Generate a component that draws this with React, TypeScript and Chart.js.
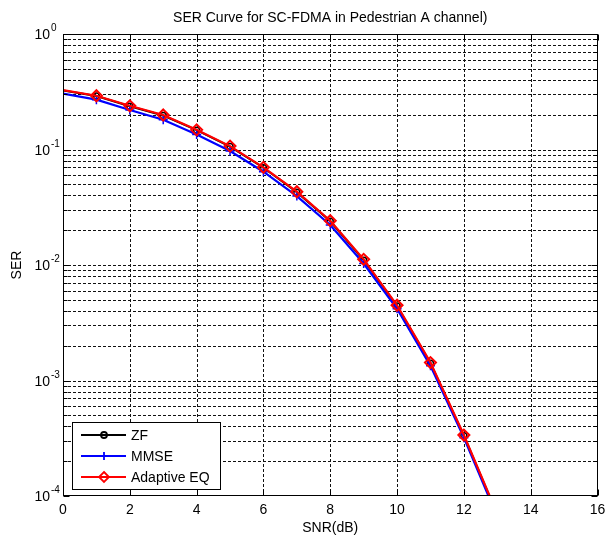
import React, { useEffect, useRef } from "react";
import { Chart, registerables } from "chart.js";

Chart.register(...registerables);

const snr = [0, 1, 2, 3, 4, 5, 6, 7, 8, 9, 10, 11, 12, 13];
const zf = [0.325, 0.29, 0.237, 0.197, 0.147, 0.106, 0.0695, 0.0427, 0.0239, 0.011, 0.00442, 0.00141, 0.000333, 0.000069];
const mmse = [0.305, 0.27, 0.22, 0.181, 0.135, 0.097, 0.0642, 0.0395, 0.0222, 0.0103, 0.00418, 0.00134, 0.00032, 0.000066];
const adaptive = [0.327, 0.292, 0.239, 0.199, 0.148, 0.107, 0.0701, 0.0431, 0.0242, 0.0112, 0.00448, 0.00143, 0.000337, 0.00007];

const xTicks = [0, 2, 4, 6, 8, 10, 12, 14, 16];
const yExponents = [0, -1, -2, -3, -4];
const legendLabels = ["ZF", "MMSE", "Adaptive EQ"];
const titleText = "SER Curve for SC-FDMA in Pedestrian A channel)";
const xTitle = "SNR(dB)";
const yTitle = "SER";

const FONT = '"Liberation Sans", Arial, sans-serif';

function drawMarker(ctx: CanvasRenderingContext2D, style: string, x: number, y: number, r: number, color: string, lw: number) {
  ctx.save();
  ctx.strokeStyle = color;
  ctx.lineWidth = lw;
  ctx.setLineDash([]);
  ctx.beginPath();
  if (style === "circle") {
    ctx.arc(x, y, r, 0, Math.PI * 2);
  } else if (style === "cross") {
    ctx.moveTo(x - r, y);
    ctx.lineTo(x + r, y);
    ctx.moveTo(x, y - r);
    ctx.lineTo(x, y + r);
  } else {
    ctx.moveTo(x, y - r);
    ctx.lineTo(x + r, y);
    ctx.lineTo(x, y + r);
    ctx.lineTo(x - r, y);
    ctx.closePath();
  }
  ctx.stroke();
  ctx.restore();
}

const matlabPlugin = {
  id: "matlabAxes",
  beforeDatasetsDraw(chart: any) {
    const { ctx, chartArea: a, scales } = chart;
    const xs = scales.x;
    const ys = scales.y;
    ctx.save();
    ctx.strokeStyle = "#111";
    ctx.lineWidth = 1;
    ctx.setLineDash([3, 2]);
    for (const v of xTicks) {
      if (v === xTicks[0] || v === xTicks[xTicks.length - 1]) continue;
      const px = Math.round(xs.getPixelForValue(v)) + 0.5;
      ctx.beginPath();
      ctx.moveTo(px, a.top);
      ctx.lineTo(px, a.bottom);
      ctx.stroke();
    }
    for (let e = -4; e < 0; e++) {
      for (let m = 1; m <= 9; m++) {
        if (e === -4 && m === 1) continue;
        const v = m * Math.pow(10, e);
        const py = Math.round(ys.getPixelForValue(v)) + 0.5;
        ctx.beginPath();
        ctx.moveTo(a.left, py);
        ctx.lineTo(a.right, py);
        ctx.stroke();
      }
    }
    ctx.restore();
  },
  afterDatasetsDraw(chart: any) {
    const { ctx, chartArea: a, scales } = chart;
    const xs = scales.x;
    const ys = scales.y;
    ctx.save();
    ctx.setLineDash([]);
    ctx.strokeStyle = "#000";
    ctx.lineWidth = 1;
    const L = a.left + 0.5, R = Math.round(a.right) - 0.5, T = a.top + 0.5, B = Math.round(a.bottom) - 0.5;
    ctx.strokeRect(L, T, R - L, B - T);
    for (const v of xTicks) {
      const px = Math.round(xs.getPixelForValue(v)) + 0.5;
      ctx.beginPath();
      ctx.moveTo(px, B);
      ctx.lineTo(px, B - 6);
      ctx.moveTo(px, T);
      ctx.lineTo(px, T + 6);
      ctx.stroke();
    }
    for (let e = -4; e <= 0; e++) {
      for (let m = 1; m <= 9; m++) {
        if (e === 0 && m > 1) break;
        const v = m * Math.pow(10, e);
        const py = Math.round(ys.getPixelForValue(v)) + 0.5;
        const len = m === 1 ? 6 : 4;
        ctx.beginPath();
        ctx.moveTo(L, py);
        ctx.lineTo(L + len, py);
        ctx.moveTo(R, py);
        ctx.lineTo(R - len, py);
        ctx.stroke();
      }
    }
    ctx.fillStyle = "#000";
    ctx.font = `14px ${FONT}`;
    ctx.textAlign = "center";
    ctx.textBaseline = "alphabetic";
    for (const v of xTicks) {
      ctx.fillText(String(v), xs.getPixelForValue(v), 514);
    }
    for (const e of yExponents) {
      const py = ys.getPixelForValue(Math.pow(10, e));
      ctx.font = `14px ${FONT}`;
      ctx.textAlign = "right";
      ctx.fillText("10", 50, py + 5);
      ctx.font = `10px ${FONT}`;
      ctx.textAlign = "left";
      ctx.fillText(String(e), 51, py - 3);
    }
    ctx.font = `14px ${FONT}`;
    ctx.textAlign = "center";
    ctx.fillText(titleText, (a.left + a.right) / 2, 22);
    ctx.fillText(xTitle, (a.left + a.right) / 2, 532);
    ctx.save();
    ctx.translate(21, (a.top + a.bottom) / 2);
    ctx.rotate(-Math.PI / 2);
    ctx.fillText(yTitle, 0, 0);
    ctx.restore();
    const lx = 72.5, ly = 422.5, lw = 148, lh = 67;
    ctx.fillStyle = "#fff";
    ctx.fillRect(lx, ly, lw, lh);
    ctx.strokeStyle = "#000";
    ctx.strokeRect(lx, ly, lw, lh);
    const styles = [
      { color: "#000000", marker: "circle", r: 3 },
      { color: "#0000ff", marker: "cross", r: 4 },
      { color: "#ff0000", marker: "diamond", r: 5 },
    ];
    const rows = [435, 456, 477];
    legendLabels.forEach((lab, i) => {
      const s = styles[i];
      const yy = rows[i];
      ctx.strokeStyle = s.color;
      ctx.lineWidth = 2;
      ctx.beginPath();
      ctx.moveTo(81, yy);
      ctx.lineTo(126, yy);
      ctx.stroke();
      drawMarker(ctx, s.marker, 104, yy, s.r, s.color, 1.8);
      ctx.fillStyle = "#000";
      ctx.font = `14px ${FONT}`;
      ctx.textAlign = "left";
      ctx.textBaseline = "middle";
      ctx.fillText(lab, 131, yy + 1);
    });
    ctx.restore();
  },
};

export default function App() {
  const ref = useRef<HTMLCanvasElement>(null);
  useEffect(() => {
    if (!ref.current) return;
    const radii = (r: number) => snr.map((v) => (v === 0 ? 0 : r));
    const chart = new Chart(ref.current, {
      type: "line",
      data: {
        datasets: [
          {
            label: legendLabels[0],
            data: snr.map((x, i) => ({ x, y: zf[i] })),
            borderColor: "#000000",
            backgroundColor: "rgba(0,0,0,0)",
            borderWidth: 2,
            pointStyle: "circle",
            pointRadius: radii(3),
            pointBorderWidth: 1.5,
            pointBorderColor: "#000000",
            pointBackgroundColor: "rgba(0,0,0,0)",
            order: 2,
          },
          {
            label: legendLabels[1],
            data: snr.map((x, i) => ({ x, y: mmse[i] })),
            borderColor: "#0000ff",
            backgroundColor: "rgba(0,0,0,0)",
            borderWidth: 2.2,
            pointStyle: "cross",
            pointRadius: radii(4.5),
            pointBorderWidth: 1.5,
            pointBorderColor: "#0000ff",
            order: 1,
          },
          {
            label: legendLabels[2],
            data: snr.map((x, i) => ({ x, y: adaptive[i] })),
            borderColor: "#ff0000",
            backgroundColor: "rgba(0,0,0,0)",
            borderWidth: 2.2,
            pointStyle: "rectRot",
            pointRadius: radii(5.5),
            pointBorderWidth: 2,
            pointBorderColor: "#ff0000",
            pointBackgroundColor: "rgba(0,0,0,0)",
            order: 0,
          },
        ],
      },
      options: {
        animation: false,
        responsive: false,
        devicePixelRatio: 1,
        events: [],
        layout: { padding: { top: 34, right: 7, left: 0, bottom: 0 } },
        elements: { line: { tension: 0 } },
        plugins: { legend: { display: false }, title: { display: false }, tooltip: { enabled: false } },
        scales: {
          x: {
            type: "linear",
            min: 0,
            max: 16,
            grid: { display: false },
            border: { display: false },
            ticks: { display: false },
            afterFit: (s: any) => {
              s.height = 41;
            },
          },
          y: {
            type: "logarithmic",
            min: 1e-4,
            max: 1,
            grid: { display: false },
            border: { display: false },
            ticks: { display: false },
            afterFit: (s: any) => {
              s.width = 63;
            },
          },
        },
      },
      plugins: [matlabPlugin],
    } as any);
    return () => chart.destroy();
  }, []);
  return (
    <div style={{ position: "absolute", left: 0, top: 0, width: 605, height: 537, background: "#fff" }}>
      <canvas ref={ref} width={605} height={537} style={{ display: "block", width: 605, height: 537 }} />
    </div>
  );
}
